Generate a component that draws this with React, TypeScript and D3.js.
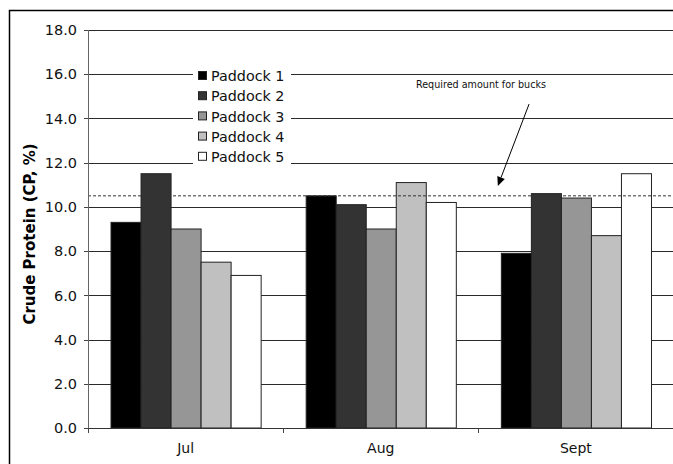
import React from "react";
import * as d3 from "d3";

const months = ["Jul", "Aug", "Sept"];
const paddocks = ["Paddock 1", "Paddock 2", "Paddock 3", "Paddock 4", "Paddock 5"];
const paddock1 = [9.3, 10.5, 7.9];
const paddock2 = [11.5, 10.1, 10.6];
const paddock3 = [9.0, 9.0, 10.4];
const paddock4 = [7.5, 11.1, 8.7];
const paddock5 = [6.9, 10.2, 11.5];
const yTicks = [0, 2, 4, 6, 8, 10, 12, 14, 16, 18];
const requiredLevel = 10.5;
const requiredLabel = "Required amount for bucks";

const seriesValues = [paddock1, paddock2, paddock3, paddock4, paddock5];
const fills = ["#000000", "#333333", "#969696", "#c0c0c0", "#ffffff"];

const W = 673;
const H = 464;
const plot = { left: 88, right: 673.5, top: 30, bottom: 428 };
const font = "'DejaVu Sans', Verdana, sans-serif";

export default function App() {
  const y = d3.scaleLinear().domain([0, 18]).range([plot.bottom, plot.top]);
  const x0 = d3.scaleBand<string>().domain(months).range([plot.left, plot.right]).paddingInner(0).paddingOuter(0);
  const x1 = d3
    .scaleBand<string>()
    .domain(paddocks)
    .range([0, x0.bandwidth()])
    .paddingInner(0)
    .paddingOuter(0.75);

  // annotation arrow, placed in data space
  const arrowStart = { x: (x0("Aug") as number) + x0.bandwidth() * 1.26, y: y(14.65) };
  const arrowEnd = { x: (x0("Aug") as number) + x0.bandwidth() * 1.1, y: y(10.95) };
  const ang = Math.atan2(arrowEnd.y - arrowStart.y, arrowEnd.x - arrowStart.x);
  const headLen = 9;
  const headW = 4;
  const hx = arrowEnd.x - headLen * Math.cos(ang);
  const hy = arrowEnd.y - headLen * Math.sin(ang);
  const head = [
    [arrowEnd.x, arrowEnd.y],
    [hx + headW * Math.sin(ang), hy - headW * Math.cos(ang)],
    [hx - headW * Math.sin(ang), hy + headW * Math.cos(ang)],
  ];

  const legend = { x: 193, y: 66, w: 98, h: 101, row: 20.2 };

  return (
    <div style={{ position: "absolute", left: 0, top: 0 }}>
      <svg width={W} height={H} style={{ display: "block", fontFamily: font }}>
        <rect x={0} y={0} width={W} height={H} fill="#fff" />
        {/* chart frame */}
        <rect x={9.5} y={10.5} width={W + 20} height={H + 20} fill="none" stroke="#000" strokeWidth={1.5} />

        {/* gridlines */}
        {yTicks.slice(1).map((t) => (
          <line key={t} x1={plot.left} x2={plot.right} y1={Math.round(y(t)) + 0.5} y2={Math.round(y(t)) + 0.5} stroke="#2a2a2a" strokeWidth={1} />
        ))}

        {/* bars */}
        {months.map((m, mi) => (
          <g key={m} transform={`translate(${x0(m)},0)`}>
            {paddocks.map((p, pi) => {
              const v = seriesValues[pi][mi];
              return (
                <rect
                  key={p}
                  x={(x1(p) as number) + 0.5}
                  y={y(v)}
                  width={x1.bandwidth()}
                  height={plot.bottom - y(v)}
                  fill={fills[pi]}
                  stroke="#222"
                  strokeWidth={1}
                />
              );
            })}
          </g>
        ))}

        {/* required level */}
        <line x1={plot.left} x2={plot.right} y1={y(requiredLevel)} y2={y(requiredLevel)} stroke="#333" strokeWidth={1} strokeDasharray="3,2" />

        {/* axes */}
        <line x1={plot.left + 0.5} x2={plot.left + 0.5} y1={plot.top} y2={plot.bottom + 0.5} stroke="#666" strokeWidth={1} />
        <line x1={plot.left} x2={plot.right} y1={plot.bottom + 0.5} y2={plot.bottom + 0.5} stroke="#333" strokeWidth={1} />
        {yTicks.map((t) => (
          <g key={t}>
            <line x1={plot.left - 4} x2={plot.left} y1={Math.round(y(t)) + 0.5} y2={Math.round(y(t)) + 0.5} stroke="#444" />
            <text x={77} y={y(t)} dy="0.36em" textAnchor="end" fontSize={14.5} fill="#111">
              {t.toFixed(1)}
            </text>
          </g>
        ))}
        {months.map((m) => (
          <g key={m}>
            <line x1={Math.round(x0(m) as number) + 0.5} x2={Math.round(x0(m) as number) + 0.5} y1={plot.bottom} y2={plot.bottom + 5} stroke="#444" />
            <text x={(x0(m) as number) + x0.bandwidth() / 2} y={453} textAnchor="middle" fontSize={14} fill="#111">
              {m}
            </text>
          </g>
        ))}

        <text
          transform={`translate(35,${(plot.top + plot.bottom) / 2 + 5}) rotate(-90)`}
          textAnchor="middle"
          fontSize={15}
          fontWeight="bold"
          fill="#000"
        >
          Crude Protein (CP, %)
        </text>

        {/* legend */}
        <rect x={legend.x} y={legend.y} width={legend.w} height={legend.h} fill="#fff" />
        {paddocks.map((p, i) => {
          const cy = legend.y + 10 + i * legend.row;
          return (
            <g key={p}>
              <rect x={198.5} y={cy - 4.5} width={8} height={8} fill={fills[i]} stroke="#222" strokeWidth={1} />
              <text x={211} y={cy} dy="0.36em" fontSize={14.3} fill="#111">
                {p}
              </text>
            </g>
          );
        })}

        {/* annotation */}
        <text x={481} y={88} textAnchor="middle" fontSize={9.6} fill="#111">
          {requiredLabel}
        </text>
        <line x1={arrowStart.x} y1={arrowStart.y} x2={hx} y2={hy} stroke="#000" strokeWidth={1} />
        <polygon points={head.map((p) => p.join(",")).join(" ")} fill="#000" />
      </svg>
    </div>
  );
}
